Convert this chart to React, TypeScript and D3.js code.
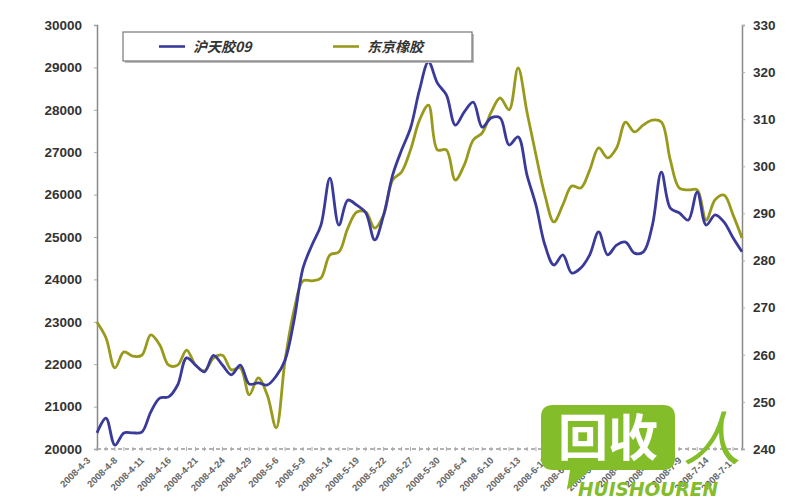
import * as d3 from "d3";
import React, { useEffect, useRef } from "react";

// category tick labels (one every 3 trading days)
const tickLabels = [
  "2008-4-3", "2008-4-8", "2008-4-11", "2008-4-16", "2008-4-21", "2008-4-24",
  "2008-4-29", "2008-5-6", "2008-5-9", "2008-5-14", "2008-5-19", "2008-5-22",
  "2008-5-27", "2008-5-30", "2008-6-4", "2008-6-10", "2008-6-13", "2008-6-18",
  "2008-6-23", "2008-6-26", "2008-7-1", "2008-7-4", "2008-7-9", "2008-7-14",
  "2008-7-17",
];

// 沪天胶09 (left axis)
const shanghai = [
  20380, 20730, 20090, 20380, 20380, 20400, 20870, 21200, 21230, 21510,
  22150, 21980, 21820, 22210, 21980, 21750, 21980, 21530, 21560, 21510,
  21720, 22100, 23040, 24270, 24810, 25280, 26390, 25280, 25870, 25750,
  25570, 24930, 25520, 26460, 27050, 27570, 28470, 29130, 28630, 28350,
  27640, 27950, 28180, 27590, 27810, 27810, 27170, 27360, 26460, 25750,
  24810, 24340, 24580, 24150, 24270, 24580, 25120, 24580, 24810, 24880,
  24620, 24650, 25280, 26530, 25680, 25570, 25400, 26060, 25280, 25520,
  25350, 24980, 24650,
];

// 东京橡胶 (right axis)
const tokyo = [
  266.9, 263.6, 257.2, 260.6, 259.7, 259.9, 264.2, 262.1, 257.8, 257.8,
  261.0, 257.8, 256.6, 259.3, 259.9, 256.8, 257.2, 251.5, 255.1, 251.5,
  244.5, 258.9, 269.5, 275.7, 275.7, 276.3, 281.2, 281.8, 286.9, 290.3,
  290.3, 286.9, 289.7, 297.1, 298.8, 303.5, 309.8, 313.0, 303.5, 303.5,
  297.1, 300.3, 305.6, 307.1, 311.5, 314.5, 312.0, 320.9, 311.5, 302.4,
  293.9, 288.2, 291.8, 295.8, 295.4, 299.2, 303.9, 301.8, 303.9, 309.4,
  307.3, 308.8, 309.8, 309.4, 301.3, 295.4, 295.0, 295.0, 288.6, 292.9,
  293.9, 289.7, 284.8,
];

const leftTicks = d3.range(20000, 30001, 1000);
const rightTicks = d3.range(240, 331, 10);
const seriesNames = ["沪天胶09", "东京橡胶"];
const colors = ["#3a3a9a", "#999a1c"];

const W = 800;
const H = 500;

const Chart: React.FC = () => {
  const ref = useRef<SVGSVGElement>(null);

  useEffect(() => {
    if (!ref.current) return;
    const svg = d3.select(ref.current);
    svg.selectAll("*").remove();

    const margin = { top: 25, right: 58, bottom: 51, left: 97 };
    const width = W - margin.left - margin.right;
    const height = H - margin.top - margin.bottom;
    const n = shanghai.length;

    const x = d3.scaleLinear().domain([0, n - 1]).range([0, width]);
    const yL = d3.scaleLinear().domain([20000, 30000]).range([height, 0]);
    const yR = d3.scaleLinear().domain([240, 330]).range([height, 0]);

    const g = svg
      .append("g")
      .attr("transform", `translate(${margin.left},${margin.top})`);

    const font = "Arial, 'Liberation Sans', sans-serif";

    // left axis
    const left = g.append("g").call(
      d3.axisLeft(yL).tickValues(leftTicks).tickSize(3).tickPadding(12).tickFormat(d3.format("d"))
    );
    left.select(".domain").attr("stroke", "#888").attr("stroke-width", 1.5);
    left.selectAll(".tick line").attr("stroke", "#aaa");
    left
      .selectAll("text")
      .attr("font-family", font)
      .attr("font-size", 13.5)
      .attr("font-weight", "bold")
      .attr("fill", "#333");

    // right axis
    const right = g
      .append("g")
      .attr("transform", `translate(${width},0)`)
      .call(d3.axisRight(yR).tickValues(rightTicks).tickSize(3).tickPadding(8));
    right.select(".domain").attr("stroke", "#888").attr("stroke-width", 1.5);
    right.selectAll(".tick line").attr("stroke", "#aaa");
    right
      .selectAll("text")
      .attr("font-family", font)
      .attr("font-size", 13.5)
      .attr("font-weight", "bold")
      .attr("fill", "#333");

    // bottom category axis (dotted line with small ticks)
    g.append("line")
      .attr("x1", 0)
      .attr("x2", width)
      .attr("y1", height)
      .attr("y2", height)
      .attr("stroke", "#999")
      .attr("stroke-width", 1.5)
      .attr("stroke-dasharray", "4,3");
    g.append("g")
      .selectAll("line")
      .data(d3.range(n))
      .enter()
      .append("line")
      .attr("x1", (d) => x(d))
      .attr("x2", (d) => x(d))
      .attr("y1", height - 2)
      .attr("y2", height + 2)
      .attr("stroke", "#aaa");

    g.append("g")
      .selectAll("text")
      .data(tickLabels)
      .enter()
      .append("text")
      .attr("transform", (_, i) => `translate(${x(i * 3) - 6},${height + 12}) rotate(-45)`)
      .attr("text-anchor", "end")
      .attr("font-family", font)
      .attr("font-size", 9.5)
      .attr("font-weight", "bold")
      .attr("fill", "#666")
      .text((d) => d);

    // lines
    const lineL = d3
      .line<number>()
      .x((_, i) => x(i))
      .y((d) => yL(d))
      .curve(d3.curveCatmullRom.alpha(0.5));
    const lineR = d3
      .line<number>()
      .x((_, i) => x(i))
      .y((d) => yR(d))
      .curve(d3.curveCatmullRom.alpha(0.5));

    g.append("path")
      .datum(tokyo)
      .attr("fill", "none")
      .attr("stroke", colors[1])
      .attr("stroke-width", 2.8)
      .attr("d", lineR);
    g.append("path")
      .datum(shanghai)
      .attr("fill", "none")
      .attr("stroke", colors[0])
      .attr("stroke-width", 2.8)
      .attr("d", lineL);

    // legend
    const lg = svg.append("g").attr("transform", "translate(123,32)");
    lg.append("rect")
      .attr("x", 2)
      .attr("y", 2)
      .attr("width", 349)
      .attr("height", 29)
      .attr("fill", "#bbb");
    lg.append("rect")
      .attr("width", 349)
      .attr("height", 29)
      .attr("fill", "#fff")
      .attr("stroke", "#777")
      .attr("stroke-width", 1.2);
    const items = [
      { name: seriesNames[0], color: colors[0], x: 36 },
      { name: seriesNames[1], color: colors[1], x: 210 },
    ];
    items.forEach((it) => {
      lg.append("line")
        .attr("x1", it.x)
        .attr("x2", it.x + 26)
        .attr("y1", 14.5)
        .attr("y2", 14.5)
        .attr("stroke", it.color)
        .attr("stroke-width", 2.6);
      lg.append("text")
        .attr("x", it.x + 34)
        .attr("y", 19.5)
        .attr("font-family", "'Noto Sans CJK SC', sans-serif")
        .attr("font-size", 14)
        .attr("font-style", "italic")
        .attr("font-weight", "bold")
        .attr("fill", "#333")
        .text(it.name);
    });

    // watermark
    const wm = svg.append("g");
    const green = "#84bd2a";
    wm.append("path")
      .attr(
        "d",
        "M553,405 H663 Q675,405 675,417 V458 Q675,470 663,470 H590 L567,490 L570,470 H553 Q541,470 541,458 V417 Q541,405 553,405 Z"
      )
      .attr("fill", green);
    wm.append("text")
      .attr("x", 608)
      .attr("y", 456)
      .attr("text-anchor", "middle")
      .attr("font-family", "'Noto Sans CJK SC', sans-serif")
      .attr("font-size", 50)
      .attr("font-weight", "bold")
      .attr("fill", "#fff")
      .text("回收");
    wm.append("text")
      .attr("x", 712)
      .attr("y", 460)
      .attr("text-anchor", "middle")
      .attr("font-family", "'Noto Sans CJK SC', sans-serif")
      .attr("font-size", 58)
      .attr("font-style", "italic")
      .attr("fill", green)
      .text("人");
    wm.append("text")
      .attr("x", 578)
      .attr("y", 496)
      .attr("font-family", "'DejaVu Sans', sans-serif")
      .attr("font-size", 20)
      .attr("font-weight", "bold")
      .attr("font-style", "italic")
      .attr("fill", green)
      .attr("textLength", 140)
      .attr("lengthAdjust", "spacingAndGlyphs")
      .text("HUISHOUREN");
  }, []);

  return (
    <svg
      ref={ref}
      width={W}
      height={H}
      style={{ position: "absolute", left: 0, top: 0, background: "#fff" }}
    />
  );
};

export default function App() {
  return <Chart />;
}
